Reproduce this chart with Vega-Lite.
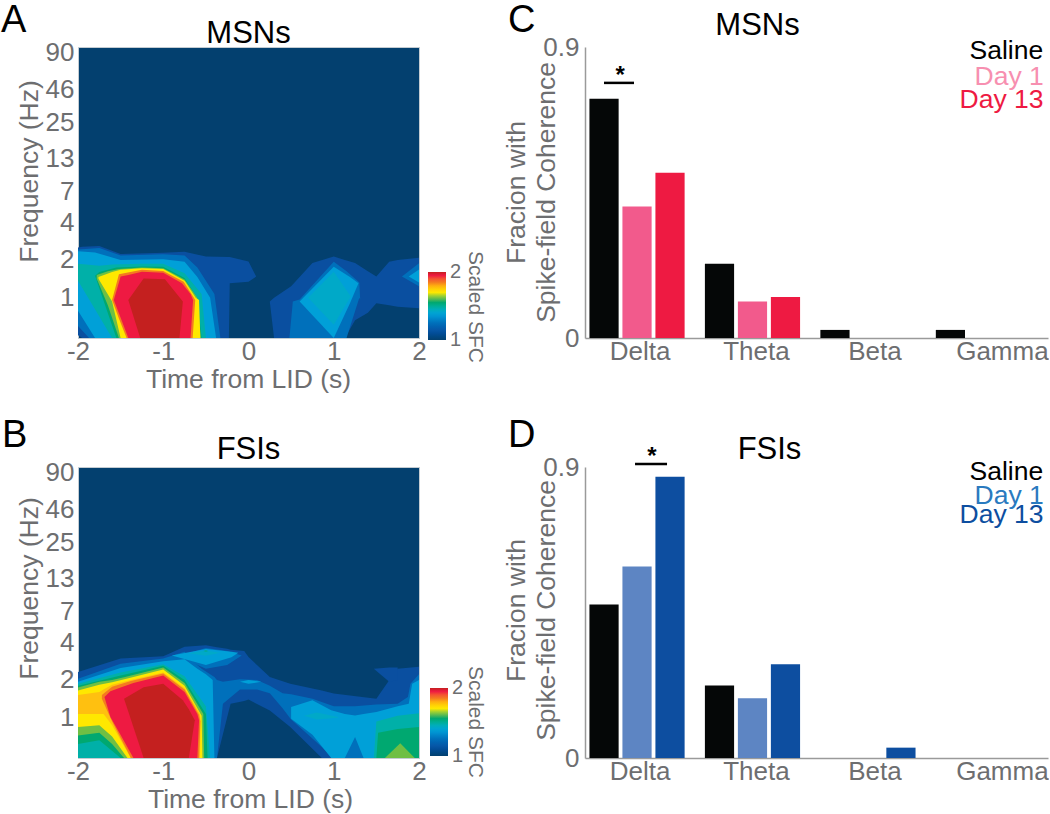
{
"$schema":"https://vega.github.io/schema/vega-lite/v6.json",
"padding":{"left":0,"right":0,"top":1,"bottom":0},
"background":"white",
"bounds":"flush",
"align":"each",
"columns":2,
"spacing":{"row":129,"column":166},
"config":{"font":"Liberation Sans","view":{"stroke":null},
"axis":{"labelFont":"Liberation Sans","titleFont":"Liberation Sans","labelColor":"#6d6e70","titleColor":"#6d6e70","labelFontSize":26,"titleFontSize":26.5,"titleFontWeight":"normal","ticks":false,"grid":false,"labelOverlap":false,"labelFlush":false,"labelBound":false},
"legend":{"labelFont":"Liberation Sans"},
"title":{"font":"Liberation Sans","fontSize":31,"fontWeight":"normal","color":"#000000"}},
"datasets":{
"msn":[
{"g":"a1","v":1.12,"t":-2,"lo":-1.0,"hi":1.33},{"g":"a1","v":1.12,"t":-1.95,"lo":-1.07,"hi":1.35},{"g":"a1","v":1.12,"t":-1.75,"lo":-1.07,"hi":1.37},{"g":"a1","v":1.12,"t":-1.5,"lo":-1.07,"hi":1.16},{"g":"a1","v":1.12,"t":-1,"lo":-1.07,"hi":1.19},{"g":"a1","v":1.12,"t":-0.75,"lo":-1.07,"hi":1.22},{"g":"a1","v":1.12,"t":-0.5,"lo":-1.07,"hi":1.09},{"g":"a1","v":1.12,"t":-0.23,"lo":-1.07,"hi":1.08},{"g":"a1","v":1.12,"t":-0.22,"lo":0.38,"hi":1.08},{"g":"a1","v":1.12,"t":0,"lo":0.42,"hi":0.96},{"g":"a1","v":1.12,"t":0.09,"lo":0.56,"hi":0.56},
{"g":"r1","v":1.12,"t":0.25,"lo":-0.11,"hi":-0.1},{"g":"r1","v":1.12,"t":0.3,"lo":-1.07,"hi":0},{"g":"r1","v":1.12,"t":0.5,"lo":-1.07,"hi":0.3},{"g":"r1","v":1.12,"t":0.75,"lo":-1.07,"hi":0.92},{"g":"r1","v":1.12,"t":1,"lo":-1.07,"hi":1.09},{"g":"r1","v":1.12,"t":1.13,"lo":-1.07,"hi":1.0},{"g":"r1","v":1.12,"t":1.25,"lo":-0.6,"hi":0.92},{"g":"r1","v":1.12,"t":1.4,"lo":-0.4,"hi":0.7},{"g":"r1","v":1.12,"t":1.5,"lo":-0.15,"hi":0.56},{"g":"r1","v":1.12,"t":1.65,"lo":-0.2,"hi":0.95},{"g":"r1","v":1.12,"t":1.75,"lo":-0.24,"hi":1.0},{"g":"r1","v":1.12,"t":2,"lo":-0.28,"hi":1.06},
{"g":"a2","v":1.25,"t":-2,"lo":-0.75,"hi":1.28},{"g":"a2","v":1.25,"t":-1.87,"lo":-1.07,"hi":1.3},{"g":"a2","v":1.25,"t":-1.75,"lo":-1.07,"hi":1.32},{"g":"a2","v":1.25,"t":-1.5,"lo":-1.07,"hi":1.12},{"g":"a2","v":1.25,"t":-1,"lo":-1.07,"hi":1.15},{"g":"a2","v":1.25,"t":-0.75,"lo":-1.07,"hi":1.12},{"g":"a2","v":1.25,"t":-0.6,"lo":-1.07,"hi":0.8},{"g":"a2","v":1.25,"t":-0.4,"lo":-1.07,"hi":0.1},{"g":"a2","v":1.25,"t":-0.33,"lo":-1.07,"hi":-1.07},
{"g":"r2","v":1.25,"t":0.48,"lo":-1.07,"hi":-1.07},{"g":"r2","v":1.25,"t":0.52,"lo":-1.07,"hi":-0.1},{"g":"r2","v":1.25,"t":0.6,"lo":-1.07,"hi":-0.05},{"g":"r2","v":1.25,"t":1,"lo":-1.07,"hi":0.95},{"g":"r2","v":1.25,"t":1.15,"lo":-1.07,"hi":0.7},{"g":"r2","v":1.25,"t":1.3,"lo":0,"hi":0.4},{"g":"r2","v":1.25,"t":1.31,"lo":-0.05,"hi":-0.05},
{"g":"e2","v":1.25,"t":1.8,"lo":0.56,"hi":0.56},{"g":"e2","v":1.25,"t":2,"lo":0.3,"hi":0.91},
{"g":"a3","v":1.38,"t":-2,"lo":-0.35,"hi":1.23},{"g":"a3","v":1.38,"t":-1.8,"lo":-1.07,"hi":1.2},{"g":"a3","v":1.38,"t":-1.5,"lo":-1.07,"hi":1.0},{"g":"a3","v":1.38,"t":-1,"lo":-1.07,"hi":1.02},{"g":"a3","v":1.38,"t":-0.75,"lo":-1.07,"hi":0.95},{"g":"a3","v":1.38,"t":-0.6,"lo":-1.07,"hi":0.55},{"g":"a3","v":1.38,"t":-0.45,"lo":-1.07,"hi":0},{"g":"a3","v":1.38,"t":-0.38,"lo":-1.07,"hi":-1.07},
{"g":"r3","v":1.38,"t":0.6,"lo":-0.1,"hi":-0.1},{"g":"r3","v":1.38,"t":1,"lo":-1.07,"hi":0.82},{"g":"r3","v":1.38,"t":1.19,"lo":-0.15,"hi":0.55},{"g":"r3","v":1.38,"t":1.29,"lo":0.38,"hi":0.38},
{"g":"e3","v":1.38,"t":1.88,"lo":0.56,"hi":0.56},{"g":"e3","v":1.38,"t":2,"lo":0.4,"hi":0.75},
{"g":"r4","v":1.43,"t":0.7,"lo":0,"hi":0},{"g":"r4","v":1.43,"t":1,"lo":-0.72,"hi":0.69},{"g":"r4","v":1.43,"t":1.2,"lo":0.03,"hi":0.03},
{"g":"a5","v":1.47,"t":-2,"lo":0.45,"hi":0.9},{"g":"a5","v":1.47,"t":-1.75,"lo":-0.5,"hi":0.85},{"g":"a5","v":1.47,"t":-1.6,"lo":-1.07,"hi":0.88},{"g":"a5","v":1.47,"t":-1.25,"lo":-1.07,"hi":0.9},{"g":"a5","v":1.47,"t":-1,"lo":-1.07,"hi":0.9},{"g":"a5","v":1.47,"t":-0.75,"lo":-1.07,"hi":0.65},{"g":"a5","v":1.47,"t":-0.55,"lo":-1.07,"hi":0.1},{"g":"a5","v":1.47,"t":-0.5,"lo":-1.07,"hi":-1.07},
{"g":"a6","v":1.55,"t":-1.8,"lo":0.58,"hi":0.58},{"g":"a6","v":1.55,"t":-1.75,"lo":0.25,"hi":0.68},{"g":"a6","v":1.55,"t":-1.55,"lo":-1.07,"hi":0.8},{"g":"a6","v":1.55,"t":-1.25,"lo":-1.07,"hi":0.83},{"g":"a6","v":1.55,"t":-1,"lo":-1.07,"hi":0.82},{"g":"a6","v":1.55,"t":-0.75,"lo":-1.07,"hi":0.52},{"g":"a6","v":1.55,"t":-0.6,"lo":-1.07,"hi":0},{"g":"a6","v":1.55,"t":-0.55,"lo":-1.07,"hi":-1.07},
{"g":"a7","v":1.62,"t":-1.78,"lo":0.5,"hi":0.6},{"g":"a7","v":1.62,"t":-1.65,"lo":-0.2,"hi":0.7},{"g":"a7","v":1.62,"t":-1.52,"lo":-1.07,"hi":0.76},{"g":"a7","v":1.62,"t":-1.25,"lo":-1.07,"hi":0.8},{"g":"a7","v":1.62,"t":-1,"lo":-1.07,"hi":0.78},{"g":"a7","v":1.62,"t":-0.75,"lo":-1.07,"hi":0.48},{"g":"a7","v":1.62,"t":-0.6,"lo":-1.07,"hi":0},{"g":"a7","v":1.62,"t":-0.56,"lo":-1.07,"hi":-1.07},
{"g":"a8","v":1.7,"t":-1.76,"lo":0.5,"hi":0.55},{"g":"a8","v":1.7,"t":-1.6,"lo":-0.1,"hi":0.68},{"g":"a8","v":1.7,"t":-1.5,"lo":-1.07,"hi":0.74},{"g":"a8","v":1.7,"t":-1.25,"lo":-1.07,"hi":0.78},{"g":"a8","v":1.7,"t":-1,"lo":-1.07,"hi":0.76},{"g":"a8","v":1.7,"t":-0.75,"lo":-1.07,"hi":0.45},{"g":"a8","v":1.7,"t":-0.62,"lo":-1.07,"hi":0},{"g":"a8","v":1.7,"t":-0.58,"lo":-1.07,"hi":-0.06},{"g":"a8","v":1.7,"t":-0.565,"lo":-1.07,"hi":-1.07},
{"g":"a9","v":1.85,"t":-1.6,"lo":-0.06,"hi":-0.06},{"g":"a9","v":1.85,"t":-1.52,"lo":-0.55,"hi":0.62},{"g":"a9","v":1.85,"t":-1.43,"lo":-1.07,"hi":0.66},{"g":"a9","v":1.85,"t":-1.25,"lo":-1.07,"hi":0.74},{"g":"a9","v":1.85,"t":-1,"lo":-1.07,"hi":0.71},{"g":"a9","v":1.85,"t":-0.76,"lo":-1.07,"hi":0.42},{"g":"a9","v":1.85,"t":-0.655,"lo":-1.07,"hi":0.05},{"g":"a9","v":1.85,"t":-0.625,"lo":-0.06,"hi":-0.06},
{"g":"a10","v":1.95,"t":-1.58,"lo":-0.06,"hi":-0.06},{"g":"a10","v":1.95,"t":-1.5,"lo":-0.53,"hi":0.56},{"g":"a10","v":1.95,"t":-1.41,"lo":-1.07,"hi":0.6},{"g":"a10","v":1.95,"t":-1.25,"lo":-1.07,"hi":0.69},{"g":"a10","v":1.95,"t":-1,"lo":-1.07,"hi":0.66},{"g":"a10","v":1.95,"t":-0.78,"lo":-1.07,"hi":0.38},{"g":"a10","v":1.95,"t":-0.68,"lo":-1.07,"hi":0.1},{"g":"a10","v":1.95,"t":-0.65,"lo":-0.06,"hi":-0.06},
{"g":"a11","v":2,"t":-1.41,"lo":-0.06,"hi":-0.06},{"g":"a11","v":2,"t":-1.27,"lo":-1.07,"hi":0.38},{"g":"a11","v":2,"t":-1.23,"lo":-1.07,"hi":0.51},{"g":"a11","v":2,"t":-0.98,"lo":-1.07,"hi":0.49},{"g":"a11","v":2,"t":-0.81,"lo":-1.07,"hi":0.01},{"g":"a11","v":2,"t":-0.77,"lo":-0.1,"hi":-0.1}
],
"fsi":[
{"g":"m1","v":1.12,"t":-2,"lo":-1.07,"hi":1.21},{"g":"m1","v":1.12,"t":-1.5,"lo":-1.07,"hi":1.57},{"g":"m1","v":1.12,"t":-1,"lo":-1.07,"hi":1.63},{"g":"m1","v":1.12,"t":-0.75,"lo":-1.07,"hi":1.88},{"g":"m1","v":1.12,"t":-0.5,"lo":-1.07,"hi":1.92},{"g":"m1","v":1.12,"t":-0.37,"lo":-1.07,"hi":1.87},{"g":"m1","v":1.12,"t":-0.25,"lo":0.01,"hi":1.83},{"g":"m1","v":1.12,"t":-0.21,"lo":0.37,"hi":1.8},{"g":"m1","v":1.12,"t":-0.05,"lo":0.44,"hi":1.77},{"g":"m1","v":1.12,"t":0,"lo":0.48,"hi":1.61},{"g":"m1","v":1.12,"t":0.25,"lo":0.19,"hi":1.08},{"g":"m1","v":1.12,"t":0.49,"lo":-0.25,"hi":0.9},{"g":"m1","v":1.12,"t":0.86,"lo":-1.07,"hi":0.72},{"g":"m1","v":1.12,"t":1,"lo":-1.07,"hi":0.64},{"g":"m1","v":1.12,"t":1.5,"lo":-1.07,"hi":0.5},{"g":"m1","v":1.12,"t":1.65,"lo":-1.07,"hi":0.99},{"g":"m1","v":1.12,"t":1.75,"lo":-1.07,"hi":1.3},{"g":"m1","v":1.12,"t":2,"lo":-1.07,"hi":1.35},
{"g":"v1","v":1.12,"t":1.47,"lo":1.3,"hi":1.3},{"g":"v1","v":1.12,"t":1.65,"lo":0.95,"hi":1.33},{"g":"v1","v":1.12,"t":1.75,"lo":1.0,"hi":1.33},
{"g":"m2","v":1.25,"t":-2,"lo":-1.07,"hi":1.03},{"g":"m2","v":1.25,"t":-1.5,"lo":-1.07,"hi":1.43},{"g":"m2","v":1.25,"t":-1,"lo":-1.07,"hi":1.57},{"g":"m2","v":1.25,"t":-0.75,"lo":-1.07,"hi":1.75},{"g":"m2","v":1.25,"t":-0.65,"lo":-1.07,"hi":1.5},{"g":"m2","v":1.25,"t":-0.55,"lo":-1.07,"hi":1.3},{"g":"m2","v":1.25,"t":-0.4,"lo":-1.07,"hi":1.08},{"g":"m2","v":1.25,"t":-0.37,"lo":-1.07,"hi":1.0},{"g":"m2","v":1.25,"t":-0.3,"lo":0.37,"hi":0.95},{"g":"m2","v":1.25,"t":-0.1,"lo":0.75,"hi":1.02},{"g":"m2","v":1.25,"t":0.1,"lo":0.75,"hi":1.0},{"g":"m2","v":1.25,"t":0.25,"lo":0.65,"hi":0.85},{"g":"m2","v":1.25,"t":0.4,"lo":0.25,"hi":0.65},{"g":"m2","v":1.25,"t":0.5,"lo":-0.05,"hi":0.62},{"g":"m2","v":1.25,"t":0.75,"lo":-0.55,"hi":0.5},{"g":"m2","v":1.25,"t":1,"lo":-1.07,"hi":0.3},{"g":"m2","v":1.25,"t":1.25,"lo":-1.07,"hi":0.3},{"g":"m2","v":1.25,"t":1.5,"lo":-1.07,"hi":0.35},{"g":"m2","v":1.25,"t":1.75,"lo":-1.07,"hi":0.37},{"g":"m2","v":1.25,"t":1.87,"lo":-1.07,"hi":0.55},{"g":"m2","v":1.25,"t":1.9,"lo":-1.07,"hi":0.9},{"g":"m2","v":1.25,"t":2,"lo":-1.07,"hi":1.15},
{"g":"u2","v":1.25,"t":-0.65,"lo":1.45,"hi":1.75},{"g":"u2","v":1.25,"t":-0.5,"lo":1.3,"hi":1.85},{"g":"u2","v":1.25,"t":-0.25,"lo":1.4,"hi":1.77},{"g":"u2","v":1.25,"t":-0.08,"lo":1.65,"hi":1.65},
{"g":"m3","v":1.38,"t":-2,"lo":-1.07,"hi":0.95},{"g":"m3","v":1.38,"t":-1.5,"lo":-1.07,"hi":1.32},{"g":"m3","v":1.38,"t":-1,"lo":-1.07,"hi":1.5},{"g":"m3","v":1.38,"t":-0.75,"lo":-1.07,"hi":1.55},{"g":"m3","v":1.38,"t":-0.6,"lo":-1.07,"hi":1.3},{"g":"m3","v":1.38,"t":-0.5,"lo":-1.07,"hi":1.15},{"g":"m3","v":1.38,"t":-0.42,"lo":-1.07,"hi":1.0},{"g":"m3","v":1.38,"t":-0.4,"lo":-1.07,"hi":-1.07},
{"g":"u3","v":1.38,"t":-0.9,"lo":1.65,"hi":1.65},{"g":"u3","v":1.38,"t":-0.5,"lo":1.4,"hi":1.82},{"g":"u3","v":1.38,"t":-0.2,"lo":1.6,"hi":1.75},{"g":"u3","v":1.38,"t":-0.12,"lo":1.72,"hi":1.72},
{"g":"s3","v":1.38,"t":-0.1,"lo":0.95,"hi":0.95},{"g":"s3","v":1.38,"t":0,"lo":0.9,"hi":1.0},{"g":"s3","v":1.38,"t":0.15,"lo":0.95,"hi":0.95},
{"g":"r3","v":1.38,"t":0.5,"lo":-0.03,"hi":0.28},{"g":"r3","v":1.38,"t":0.75,"lo":-0.45,"hi":0.46},{"g":"r3","v":1.38,"t":0.97,"lo":-1.07,"hi":0.2},{"g":"r3","v":1.38,"t":1.13,"lo":-1.07,"hi":0.1},{"g":"r3","v":1.38,"t":1.25,"lo":-0.51,"hi":0.06},{"g":"r3","v":1.38,"t":1.35,"lo":-1.07,"hi":0.1},{"g":"r3","v":1.38,"t":1.5,"lo":-1.07,"hi":0.15},{"g":"r3","v":1.38,"t":1.75,"lo":-1.07,"hi":0.3},{"g":"r3","v":1.38,"t":1.88,"lo":-1.07,"hi":0.37},{"g":"r3","v":1.38,"t":1.92,"lo":-1.07,"hi":0.9},{"g":"r3","v":1.38,"t":2,"lo":-1.07,"hi":1.0},
{"g":"c4","v":1.43,"t":0.65,"lo":0.05,"hi":0.05},{"g":"c4","v":1.43,"t":0.8,"lo":-0.05,"hi":0.14},{"g":"c4","v":1.43,"t":1.05,"lo":0,"hi":0.02},
{"g":"u4","v":1.43,"t":-0.7,"lo":1.71,"hi":1.71},{"g":"u4","v":1.43,"t":-0.5,"lo":1.64,"hi":1.78},{"g":"u4","v":1.43,"t":-0.33,"lo":1.72,"hi":1.72},
{"g":"m5","v":1.47,"t":-2,"lo":-1.07,"hi":0.9},{"g":"m5","v":1.47,"t":-1.5,"lo":-1.07,"hi":1.2},{"g":"m5","v":1.47,"t":-1,"lo":-1.07,"hi":1.42},{"g":"m5","v":1.47,"t":-0.75,"lo":-1.07,"hi":1.1},{"g":"m5","v":1.47,"t":-0.5,"lo":-1.07,"hi":0.3},{"g":"m5","v":1.47,"t":-0.45,"lo":-1.07,"hi":-1.07},
{"g":"r5","v":1.47,"t":1.47,"lo":-1.07,"hi":-1.07},{"g":"r5","v":1.47,"t":1.5,"lo":-1.07,"hi":-0.1},{"g":"r5","v":1.47,"t":1.75,"lo":-1.07,"hi":0.05},{"g":"r5","v":1.47,"t":2,"lo":-1.07,"hi":0.12},
{"g":"m6","v":1.55,"t":-2,"lo":-0.7,"hi":0.85},{"g":"m6","v":1.55,"t":-1.75,"lo":-0.6,"hi":0.98},{"g":"m6","v":1.55,"t":-1.5,"lo":-1.07,"hi":1.12},{"g":"m6","v":1.55,"t":-1,"lo":-1.07,"hi":1.38},{"g":"m6","v":1.55,"t":-0.75,"lo":-1.07,"hi":1.0},{"g":"m6","v":1.55,"t":-0.5,"lo":-1.07,"hi":0.1},{"g":"m6","v":1.55,"t":-0.48,"lo":-1.07,"hi":-1.07},
{"g":"p6","v":1.55,"t":-0.53,"lo":1.77,"hi":1.77},{"g":"p6","v":1.55,"t":-0.5,"lo":1.755,"hi":1.785},{"g":"p6","v":1.55,"t":-0.47,"lo":1.77,"hi":1.77},
{"g":"r6","v":1.55,"t":1.5,"lo":-1.07,"hi":-1.07},{"g":"r6","v":1.55,"t":1.52,"lo":-1.07,"hi":-0.4},{"g":"r6","v":1.55,"t":1.75,"lo":-1.07,"hi":-0.3},{"g":"r6","v":1.55,"t":2,"lo":-1.07,"hi":-0.25},
{"g":"m7","v":1.62,"t":-2,"lo":-0.47,"hi":0.8},{"g":"m7","v":1.62,"t":-1.75,"lo":-0.4,"hi":0.95},{"g":"m7","v":1.62,"t":-1.6,"lo":-0.7,"hi":1.0},{"g":"m7","v":1.62,"t":-1.46,"lo":-1.07,"hi":1.07},{"g":"m7","v":1.62,"t":-1,"lo":-1.07,"hi":1.33},{"g":"m7","v":1.62,"t":-0.75,"lo":-1.07,"hi":0.92},{"g":"m7","v":1.62,"t":-0.53,"lo":-1.07,"hi":0.1},{"g":"m7","v":1.62,"t":-0.52,"lo":-1.07,"hi":-1.07},
{"g":"r7","v":1.62,"t":1.6,"lo":-1.07,"hi":-1.07},{"g":"r7","v":1.62,"t":1.78,"lo":-1.07,"hi":-0.68},{"g":"r7","v":1.62,"t":1.95,"lo":-1.07,"hi":-1.07},
{"g":"m8","v":1.7,"t":-2,"lo":-0.25,"hi":0.72},{"g":"m8","v":1.7,"t":-1.75,"lo":-0.2,"hi":0.87},{"g":"m8","v":1.7,"t":-1.6,"lo":-0.5,"hi":0.94},{"g":"m8","v":1.7,"t":-1.42,"lo":-1.07,"hi":1.04},{"g":"m8","v":1.7,"t":-1,"lo":-1.07,"hi":1.28},{"g":"m8","v":1.7,"t":-0.75,"lo":-1.07,"hi":0.85},{"g":"m8","v":1.7,"t":-0.55,"lo":-1.07,"hi":0.05},{"g":"m8","v":1.7,"t":-0.54,"lo":-1.07,"hi":-1.07},
{"g":"m9","v":1.78,"t":-2,"lo":0.1,"hi":0.6},{"g":"m9","v":1.78,"t":-1.75,"lo":0.1,"hi":0.68},{"g":"m9","v":1.78,"t":-1.7,"lo":0.1,"hi":0.75},{"g":"m9","v":1.78,"t":-1.6,"lo":-0.2,"hi":0.87},{"g":"m9","v":1.78,"t":-1.38,"lo":-1.07,"hi":1.0},{"g":"m9","v":1.78,"t":-1,"lo":-1.07,"hi":1.2},{"g":"m9","v":1.78,"t":-0.75,"lo":-1.07,"hi":0.78},{"g":"m9","v":1.78,"t":-0.57,"lo":-1.07,"hi":0.1},{"g":"m9","v":1.78,"t":-0.56,"lo":-0.08,"hi":-0.08},
{"g":"m10","v":1.85,"t":-1.72,"lo":0.5,"hi":0.6},{"g":"m10","v":1.85,"t":-1.6,"lo":-0.1,"hi":0.82},{"g":"m10","v":1.85,"t":-1.38,"lo":-1.07,"hi":0.97},{"g":"m10","v":1.85,"t":-1,"lo":-1.07,"hi":1.17},{"g":"m10","v":1.85,"t":-0.75,"lo":-1.07,"hi":0.75},{"g":"m10","v":1.85,"t":-0.58,"lo":-1.07,"hi":0.07},{"g":"m10","v":1.85,"t":-0.565,"lo":-0.1,"hi":-0.1},
{"g":"m11","v":1.95,"t":-1.69,"lo":0.55,"hi":0.55},{"g":"m11","v":1.95,"t":-1.62,"lo":0.02,"hi":0.7},{"g":"m11","v":1.95,"t":-1.5,"lo":-0.46,"hi":0.8},{"g":"m11","v":1.95,"t":-1.35,"lo":-1.07,"hi":0.92},{"g":"m11","v":1.95,"t":-1,"lo":-1.07,"hi":1.12},{"g":"m11","v":1.95,"t":-0.75,"lo":-1.07,"hi":0.68},{"g":"m11","v":1.95,"t":-0.6,"lo":-1.07,"hi":0.1},{"g":"m11","v":1.95,"t":-0.58,"lo":-0.07,"hi":-0.07},
{"g":"m12","v":2,"t":-1.46,"lo":0.5,"hi":0.5},{"g":"m12","v":2,"t":-1.23,"lo":-1.07,"hi":0.81},{"g":"m12","v":2,"t":-1,"lo":-1.07,"hi":0.9},{"g":"m12","v":2,"t":-0.77,"lo":-1.07,"hi":0.46},{"g":"m12","v":2,"t":-0.7,"lo":-1.07,"hi":0.22},{"g":"m12","v":2,"t":-0.63,"lo":-0.07,"hi":-0.07}
],
"barsC":[
{"band":"Delta","group":"Saline","f":0.74},{"band":"Delta","group":"Day 1","f":0.407},{"band":"Delta","group":"Day 13","f":0.511},
{"band":"Theta","group":"Saline","f":0.23},{"band":"Theta","group":"Day 1","f":0.113},{"band":"Theta","group":"Day 13","f":0.127},
{"band":"Beta","group":"Saline","f":0.025},{"band":"Beta","group":"Day 1","f":0},{"band":"Beta","group":"Day 13","f":0},
{"band":"Gamma","group":"Saline","f":0.025},{"band":"Gamma","group":"Day 1","f":0},{"band":"Gamma","group":"Day 13","f":0}],
"barsD":[
{"band":"Delta","group":"Saline","f":0.475},{"band":"Delta","group":"Day 1","f":0.592},{"band":"Delta","group":"Day 13","f":0.87},
{"band":"Theta","group":"Saline","f":0.224},{"band":"Theta","group":"Day 1","f":0.185},{"band":"Theta","group":"Day 13","f":0.29},
{"band":"Beta","group":"Saline","f":0},{"band":"Beta","group":"Day 1","f":0},{"band":"Beta","group":"Day 13","f":0.032},
{"band":"Gamma","group":"Saline","f":0},{"band":"Gamma","group":"Day 1","f":0},{"band":"Gamma","group":"Day 13","f":0}]
},
"concat":[
{"width":341,"height":291,"view":{"fill":"#03406f","stroke":"#c4ccd2"},
"title":{"text":"MSNs","offset":4,"dy":52},
"layer":[
{"data":{"name":"msn"},"mark":{"type":"area","clip":true},
"encoding":{
"x":{"field":"t","type":"quantitative","scale":{"domain":[-2,2],"nice":false},"axis":{"values":[-2,-1,0,1,2],"labelExpr":"datum.value+''","title":"Time from LID (s)","domain":false,"labelPadding":0,"titleY":49,"titleX":170,"titleBaseline":"alphabetic"}},
"y":{"field":"lo","type":"quantitative","scale":{"domain":[-1.07,6.65],"nice":false,"zero":false},"axis":{"values":[0,1,2,2.807,3.7,4.644,5.524,6.492],"labelExpr":"format(pow(2,datum.value),'.0f')","title":"Frequency (Hz)","domain":false,"labelPadding":4,"titleX":-41,"titleY":124,"titleBaseline":"alphabetic"}},
"y2":{"field":"hi"},
"detail":{"field":"g"},
"color":{"field":"v","type":"quantitative","scale":{"domain":[1,1.12,1.25,1.38,1.43,1.47,1.55,1.62,1.7,1.78,1.85,1.95,2],"range":["#03406f","#0a4fa0","#0070bb","#00a0d8","#00a9c8","#00b0a8","#00a870","#6fbf44","#ffe800","#ffc010","#f47a20","#ee1a42","#c4201f"]},
"legend":{"orient":"none","legendX":350,"legendY":225,"title":null,"type":"gradient","direction":"vertical","gradientLength":68,"gradientThickness":18,"values":[1,2],"format":"d","labelFontSize":20,"labelColor":"#6d6e70","labelOffset":4,"encode":{"labels":{"update":{"baseline":{"value":"middle"}}}}}}}},
{"data":{"values":[{"s":"A"}]},"mark":{"type":"text","fontSize":38,"color":"#000000","align":"left","baseline":"alphabetic","dx":-77,"dy":-15},"encoding":{"x":{"datum":-2,"type":"quantitative"},"y":{"datum":6.65,"type":"quantitative"},"text":{"field":"s"}}},
{"data":{"values":[{"s":"Scaled SFC"}]},"mark":{"type":"text","fontSize":21,"color":"#6d6e70","angle":90,"align":"center","baseline":"middle","dx":-31,"dy":-56},"encoding":{"x":{"datum":2,"type":"quantitative"},"y":{"datum":-1.07,"type":"quantitative"},"text":{"field":"s"}}}
]},
{"width":463,"height":291,
"title":{"text":"MSNs","offset":13,"dx":-59,"dy":53},
"layer":[
{"data":{"name":"barsC"},"mark":{"type":"bar"},
"encoding":{
"x":{"field":"band","type":"nominal","sort":["Delta","Theta","Beta","Gamma"],"scale":{"type":"band","domain":["Delta","Theta","Beta","Gamma"],"paddingInner":0.15,"paddingOuter":0.08,"align":0.16},"axis":{"title":null,"labelAngle":0,"domainColor":"#9a9a9a","domainWidth":1.5,"labelPadding":0,"labelOffset":{"expr":"datum.value=='Gamma'?19:datum.value=='Beta'?7:datum.value=='Theta'?4:3"}}},
"xOffset":{"field":"group","type":"nominal","scale":{"domain":["Saline","Day 1","Day 13"],"paddingInner":0.115,"paddingOuter":0.045}},
"y":{"field":"f","type":"quantitative","scale":{"domain":[0,0.9],"nice":false},"axis":{"values":[0,0.9],"labelExpr":"datum.value==0?'0':'0.9'","title":["Fracion with","Spike-field Coherence"],"titleLineHeight":30,"titleX":-61,"titleY":145,"titleBaseline":"alphabetic","domainColor":"#9a9a9a","domainWidth":1.5,"labelPadding":6}},
"color":{"field":"group","type":"nominal","scale":{"domain":["Saline","Day 1","Day 13"],"range":["#050707","#f25a8c","#ee1a42"]},
"legend":{"orient":"none","legendX":348,"legendY":-9,"title":null,"symbolSize":0,"symbolStrokeWidth":0,"labelFontSize":26.5,"rowPadding":-9,"labelOffset":0,"encode":{"labels":{"update":{"fill":{"signal":"datum.value=='Saline'?'#000000':datum.value=='Day 1'?'#f78fb0':'#ee1a42'"},"dx":{"signal":"datum.value=='Saline'?10:datum.value=='Day 1'?15:0"},"dy":{"signal":"datum.value=='Saline'?0:datum.value=='Day 1'?-1:-4"}}}}}}}},
{"data":{"values":[{"band":"Delta","y":0.789}]},"mark":{"type":"tick","orient":"horizontal","size":30,"thickness":2.5,"color":"#000000","opacity":1,"xOffset":-18},
"encoding":{"x":{"field":"band","type":"nominal","scale":{"type":"band"}},"y":{"field":"y","type":"quantitative"}}},
{"data":{"values":[{"band":"Delta","y":0.789,"s":"*"}]},"mark":{"type":"text","fontSize":24,"fontWeight":"bold","color":"#000000","baseline":"alphabetic","align":"center","dy":0},
"encoding":{"x":{"field":"band","type":"nominal","bandPosition":0.327,"scale":{"type":"band"}},"y":{"field":"y","type":"quantitative"},"text":{"field":"s"}}},
{"data":{"values":[{"band":"Delta","s":"C"}]},"mark":{"type":"text","fontSize":38,"color":"#000000","align":"left","baseline":"alphabetic","dx":-80,"dy":-15},"encoding":{"x":{"field":"band","type":"nominal","bandPosition":0,"scale":{"type":"band"}},"y":{"datum":0.9,"type":"quantitative"},"text":{"field":"s"}}}
]},
{"width":341,"height":291,"view":{"fill":"#03406f","stroke":"#c4ccd2"},
"title":{"text":"FSIs","offset":9,"dy":58},
"layer":[
{"data":{"name":"fsi"},"mark":{"type":"area","clip":true},
"encoding":{
"x":{"field":"t","type":"quantitative","scale":{"domain":[-2,2],"nice":false},"axis":{"values":[-2,-1,0,1,2],"labelExpr":"datum.value+''","title":"Time from LID (s)","domain":false,"labelPadding":0,"titleY":49,"titleX":172,"titleBaseline":"alphabetic"}},
"y":{"field":"lo","type":"quantitative","scale":{"domain":[-1.07,6.65],"nice":false,"zero":false},"axis":{"values":[0,1,2,2.807,3.7,4.644,5.524,6.492],"labelExpr":"format(pow(2,datum.value),'.0f')","title":"Frequency (Hz)","domain":false,"labelPadding":4,"titleX":-41,"titleY":121,"titleBaseline":"alphabetic"}},
"y2":{"field":"hi"},
"detail":{"field":"g"},
"color":{"field":"v","type":"quantitative","scale":{"domain":[1,1.12,1.25,1.38,1.43,1.47,1.55,1.62,1.7,1.78,1.85,1.95,2],"range":["#03406f","#0a4fa0","#0070bb","#00a0d8","#00a9c8","#00b0a8","#00a870","#6fbf44","#ffe800","#ffc010","#f47a20","#ee1a42","#c4201f"]},
"legend":{"orient":"none","legendX":352,"legendY":221,"title":null,"type":"gradient","direction":"vertical","gradientLength":68,"gradientThickness":18,"values":[1,2],"format":"d","labelFontSize":20,"labelColor":"#6d6e70","labelOffset":4,"encode":{"labels":{"update":{"baseline":{"value":"middle"}}}}}}}},
{"data":{"values":[{"s":"B"}]},"mark":{"type":"text","fontSize":38,"color":"#000000","align":"left","baseline":"alphabetic","dx":-76,"dy":-20},"encoding":{"x":{"datum":-2,"type":"quantitative"},"y":{"datum":6.65,"type":"quantitative"},"text":{"field":"s"}}},
{"data":{"values":[{"s":"Scaled SFC"}]},"mark":{"type":"text","fontSize":21,"color":"#6d6e70","angle":90,"align":"center","baseline":"middle","dx":-36,"dy":-56},"encoding":{"x":{"datum":2,"type":"quantitative"},"y":{"datum":-1.07,"type":"quantitative"},"text":{"field":"s"}}}
]},
{"width":463,"height":291,
"title":{"text":"FSIs","offset":9,"dx":-47,"dy":58},
"layer":[
{"data":{"name":"barsD"},"mark":{"type":"bar"},
"encoding":{
"x":{"field":"band","type":"nominal","sort":["Delta","Theta","Beta","Gamma"],"scale":{"type":"band","domain":["Delta","Theta","Beta","Gamma"],"paddingInner":0.15,"paddingOuter":0.08,"align":0.16},"axis":{"title":null,"labelAngle":0,"domainColor":"#9a9a9a","domainWidth":1.5,"labelPadding":0,"labelOffset":{"expr":"datum.value=='Gamma'?19:datum.value=='Beta'?7:datum.value=='Theta'?4:3"}}},
"xOffset":{"field":"group","type":"nominal","scale":{"domain":["Saline","Day 1","Day 13"],"paddingInner":0.115,"paddingOuter":0.045}},
"y":{"field":"f","type":"quantitative","scale":{"domain":[0,0.9],"nice":false},"axis":{"values":[0,0.9],"labelExpr":"datum.value==0?'0':'0.9'","title":["Fracion with","Spike-field Coherence"],"titleLineHeight":30,"titleX":-61,"titleY":143,"titleBaseline":"alphabetic","domainColor":"#9a9a9a","domainWidth":1.5,"labelPadding":6}},
"color":{"field":"group","type":"nominal","scale":{"domain":["Saline","Day 1","Day 13"],"range":["#050707","#5d85c3","#0d4ea0"]},
"legend":{"orient":"none","legendX":348,"legendY":-8,"title":null,"symbolSize":0,"symbolStrokeWidth":0,"labelFontSize":26.5,"rowPadding":-9,"labelOffset":0,"encode":{"labels":{"update":{"fill":{"signal":"datum.value=='Saline'?'#000000':datum.value=='Day 1'?'#2a7abf':'#0d4ea0'"},"dx":{"signal":"datum.value=='Saline'?10:datum.value=='Day 1'?15:0"},"dy":{"signal":"datum.value=='Saline'?0:datum.value=='Day 1'?-3:-8"}}}}}}}},
{"data":{"values":[{"band":"Delta","y":0.909}]},"mark":{"type":"tick","orient":"horizontal","size":32,"thickness":2.5,"color":"#000000","opacity":1,"clip":false,"xOffset":14},
"encoding":{"x":{"field":"band","type":"nominal","scale":{"type":"band"}},"y":{"field":"y","type":"quantitative"}}},
{"data":{"values":[{"band":"Delta","y":0.909,"s":"*"}]},"mark":{"type":"text","fontSize":24,"fontWeight":"bold","color":"#000000","baseline":"alphabetic","align":"center","dy":0},
"encoding":{"x":{"field":"band","type":"nominal","bandPosition":0.653,"scale":{"type":"band"}},"y":{"field":"y","type":"quantitative"},"text":{"field":"s"}}},
{"data":{"values":[{"band":"Delta","s":"D"}]},"mark":{"type":"text","fontSize":38,"color":"#000000","align":"left","baseline":"alphabetic","dx":-80,"dy":-20},"encoding":{"x":{"field":"band","type":"nominal","bandPosition":0,"scale":{"type":"band"}},"y":{"datum":0.9,"type":"quantitative"},"text":{"field":"s"}}}
]}
]
}
